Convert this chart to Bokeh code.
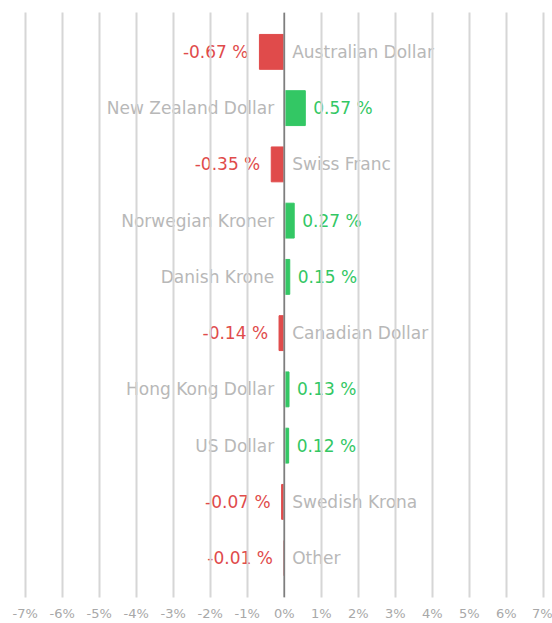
from bokeh.plotting import figure
from bokeh.models import ColumnDataSource, FixedTicker, Range1d, Span
from bokeh.core.properties import value
from bokeh.embed import file_html
from bokeh.resources import INLINE

# ---- data ----
currencies = ["Australian Dollar", "New Zealand Dollar", "Swiss Franc", "Norwegian Kroner",
              "Danish Krone", "Canadian Dollar", "Hong Kong Dollar", "US Dollar",
              "Swedish Krona", "Other"]
changes = [-0.67, 0.57, -0.35, 0.27, 0.15, -0.14, 0.13, 0.12, -0.07, -0.01]
tick_values = [-7, -6, -5, -4, -3, -2, -1, 0, 1, 2, 3, 4, 5, 6, 7]
tick_labels = ["-7%", "-6%", "-5%", "-4%", "-3%", "-2%", "-1%", "0%",
               "1%", "2%", "3%", "4%", "5%", "6%", "7%"]

RED = "#e04b4b"
GREEN = "#33c764"
GREY_TXT = "#b8b8b8"
FONT = "DejaVu Sans"

def build(sign):
    rows = [i for i, v in enumerate(changes) if (v < 0) == (sign < 0)]
    return ColumnDataSource(dict(
        y=rows,
        v=[changes[i] for i in rows],
        name=[currencies[i] for i in rows],
        vtxt=[f"{changes[i]:.2f} %" for i in rows],
    ))

neg = build(-1)
pos = build(1)

p = figure(width=552, height=623, output_backend="svg", toolbar_location=None,
           x_range=Range1d(-7.668, 7.251), y_range=Range1d(9.7, -0.7),
           y_axis_location=None, min_border=0, min_border_top=12,
           background_fill_color="white", border_fill_color="white")
p.outline_line_color = None

p.ygrid.grid_line_color = None
p.xgrid.ticker = FixedTicker(ticks=tick_values)
p.xgrid.grid_line_color = "#d6d6d6"
p.xgrid.grid_line_width = 2
p.xgrid.level = "overlay"

ax = p.xaxis[0]
ax.ticker = FixedTicker(ticks=tick_values)
ax.major_label_overrides = {t: lab for t, lab in zip(tick_values, tick_labels)}
ax.axis_line_color = None
ax.major_tick_line_color = None
ax.minor_tick_line_color = None
ax.major_tick_out = 0
ax.major_label_standoff = 8
ax.major_label_text_color = "#a8a8a8"
ax.major_label_text_font = FONT
ax.major_label_text_font_size = "13px"

# bars
p.hbar(y="y", left=0, right="v", height=0.62, source=neg, fill_color=RED,
       line_color=RED, line_width=1)
p.hbar(y="y", left=0, right="v", height=0.62, source=pos, fill_color=GREEN,
       line_color=GREEN, line_width=1)

# value labels
p.text(x="v", y="y", text="vtxt", source=neg, x_offset=-11, text_align="right",
       text_baseline="middle", text_color=RED, text_font=value(FONT), text_font_size="17px")
p.text(x="v", y="y", text="vtxt", source=pos, x_offset=8, text_align="left",
       text_baseline="middle", text_color=GREEN, text_font=value(FONT), text_font_size="17px")
# category labels
p.text(x=0, y="y", text="name", source=neg, x_offset=8, text_align="left",
       text_baseline="middle", text_color=GREY_TXT, text_font=value(FONT), text_font_size="17px")
p.text(x=0, y="y", text="name", source=pos, x_offset=-10, text_align="right",
       text_baseline="middle", text_color=GREY_TXT, text_font=value(FONT), text_font_size="17px")

p.add_layout(Span(location=0, dimension="height", line_color="#7a7a7a", line_width=1.5,
                  level="overlay"))

open("out.html", "w").write(file_html(p, INLINE))
